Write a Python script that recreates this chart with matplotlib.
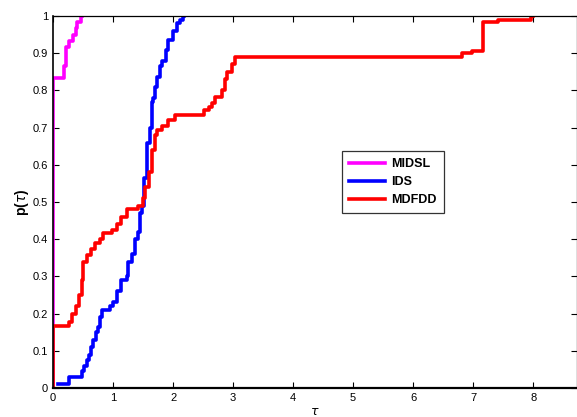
import numpy as np
import matplotlib
matplotlib.use('Agg')
import matplotlib.pyplot as plt

plt.rcParams['font.family'] = ['Liberation Sans', 'DejaVu Sans']

# step points (tau, p) for each solver
midsl_x = [0, 0, 0.19, 0.21, 0.26, 0.34, 0.38, 0.40, 0.46, 0.49]
midsl_y = [0, 0.833, 0.867, 0.917, 0.933, 0.95, 0.967, 0.983, 1.0, 1.0]

ids_x = [0.09, 0.27, 0.48, 0.52, 0.56, 0.60, 0.64, 0.67, 0.71, 0.75, 0.78, 0.82,
         0.95, 1.00, 1.06, 1.14, 1.23, 1.25, 1.31, 1.37, 1.41, 1.45, 1.48, 1.51,
         1.52, 1.57, 1.62, 1.64, 1.66, 1.70, 1.73, 1.78, 1.81, 1.88, 1.92, 1.99,
         2.06, 2.12, 2.17, 2.18]
ids_y = [0.01, 0.03, 0.045, 0.06, 0.075, 0.09, 0.11, 0.13, 0.15, 0.165, 0.19, 0.21,
         0.22, 0.23, 0.26, 0.29, 0.30, 0.34, 0.36, 0.40, 0.42, 0.47, 0.49, 0.50,
         0.565, 0.66, 0.70, 0.77, 0.78, 0.81, 0.835, 0.865, 0.88, 0.91, 0.935, 0.96,
         0.98, 0.99, 1.0, 1.0]

mdfdd_x = [0, 0, 0.26, 0.32, 0.39, 0.44, 0.48, 0.50, 0.56, 0.64, 0.70, 0.78, 0.84,
           0.98, 1.06, 1.14, 1.23, 1.42, 1.50, 1.53, 1.59, 1.64, 1.70, 1.73, 1.81,
           1.92, 2.03, 2.51, 2.60, 2.64, 2.70, 2.81, 2.87, 2.89, 2.98, 3.03, 6.81,
           6.98, 7.16, 7.42, 7.97, 8.0]
mdfdd_y = [0, 0.167, 0.178, 0.2, 0.22, 0.25, 0.29, 0.34, 0.357, 0.375, 0.39, 0.40, 0.417,
           0.425, 0.44, 0.46, 0.48, 0.49, 0.51, 0.54, 0.58, 0.64, 0.68, 0.695, 0.705,
           0.72, 0.733, 0.747, 0.755, 0.765, 0.783, 0.80, 0.83, 0.85, 0.87, 0.89, 0.90,
           0.907, 0.983, 0.99, 1.0, 1.0]

fig = plt.figure(figsize=(5.77, 4.17), dpi=100)
ax = fig.add_axes([0.092, 0.0695, 0.908, 0.892])

ax.plot(midsl_x, midsl_y, drawstyle='steps-post', color='#ff00ff', lw=2.6, label='MIDSL')
ax.plot(ids_x, ids_y, drawstyle='steps-post', color='#0000ff', lw=2.6, label='IDS')
ax.plot(mdfdd_x, mdfdd_y, drawstyle='steps-post', color='#ff0000', lw=2.6, label='MDFDD')

ax.set_xlim(0, 8.73)
ax.set_ylim(0, 1)
ax.set_xticks(range(0, 9))
ax.set_yticks(np.arange(0, 1.01, 0.1))
ax.set_yticklabels(['0', '0.1', '0.2', '0.3', '0.4', '0.5', '0.6', '0.7', '0.8', '0.9', '1'])
ax.tick_params(direction='in', top=True, right=True, labelsize=8, length=4, width=0.8)
for s in ax.spines.values():
    s.set_linewidth(0.9)
ax.spines['bottom'].set_linewidth(1.6)
ax.spines['left'].set_linewidth(1.2)

ax.set_xlabel(r'$\tau$', fontsize=9, labelpad=2)
ax.set_ylabel(r'p($\tau$)', fontsize=10, fontweight='bold', labelpad=1)

leg = ax.legend(loc='upper left', bbox_to_anchor=(0.551, 0.636),
                prop={'weight': 'bold', 'size': 9}, fancybox=False, edgecolor='black',
                handlelength=2.9, borderpad=0.55, labelspacing=0.48, handletextpad=0.5,
                borderaxespad=0)
leg.get_frame().set_linewidth(0.9)

plt.savefig('out.png', dpi=100)
